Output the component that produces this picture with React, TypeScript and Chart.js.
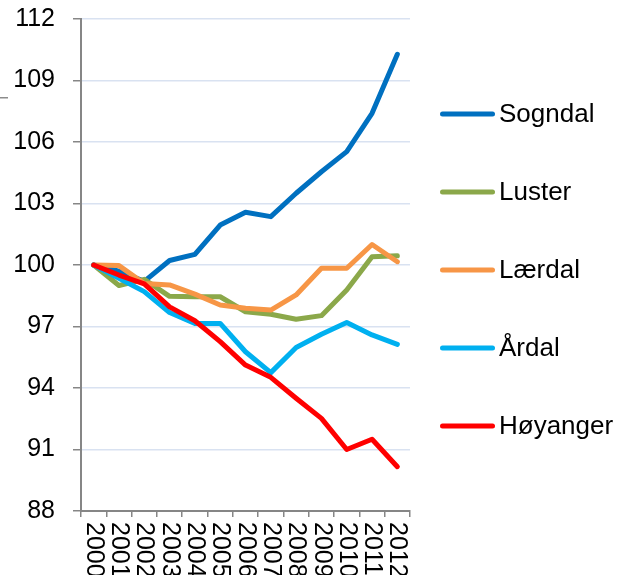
import React, { useEffect, useRef } from "react";
import { Chart, registerables } from "chart.js";

Chart.register(...registerables);

const years = ["2000", "2001", "2002", "2003", "2004", "2005", "2006", "2007", "2008", "2009", "2010", "2011", "2012"];
const seriesNames = ["Sogndal", "Luster", "Lærdal", "Årdal", "Høyanger"];
const sogndal = [100, 99.7, 99.2, 100.22, 100.52, 101.95, 102.57, 102.36, 103.5, 104.55, 105.53, 107.4, 110.28];
const luster = [100, 99.0, 99.3, 98.47, 98.45, 98.45, 97.72, 97.6, 97.35, 97.53, 98.78, 100.4, 100.45];
const laerdal = [100, 99.97, 99.1, 99.03, 98.58, 98.05, 97.89, 97.8, 98.54, 99.84, 99.84, 101.0, 100.16];
const ardal = [100, 99.35, 98.7, 97.68, 97.15, 97.15, 95.77, 94.75, 95.98, 96.62, 97.2, 96.59, 96.13];
const hoyanger = [100, 99.51, 99.08, 97.96, 97.28, 96.26, 95.12, 94.52, 93.5, 92.52, 91.0, 91.5, 90.16];
const seriesValues = [sogndal, luster, laerdal, ardal, hoyanger];
const seriesColors = ["#0070C0", "#8BA84A", "#F79646", "#00B0F0", "#FF0000"];
const yMin = 88;
const yMax = 112;
const yStep = 3;

const FONT = '"Liberation Sans", Arial, sans-serif';

export default function App() {
  const ref = useRef<HTMLCanvasElement>(null);

  useEffect(() => {
    document.body.style.margin = "0";
    const canvas = ref.current;
    if (!canvas) return;

    const xLabelsPlugin = {
      id: "xLabelsRotated",
      afterDraw(chart: any) {
        const ctx = chart.ctx;
        const xs = chart.scales.x;
        ctx.save();
        ctx.font = `25px ${FONT}`;
        ctx.fillStyle = "#000";
        ctx.textAlign = "left";
        ctx.textBaseline = "middle";
        const labels = chart.data.labels as string[];
        labels.forEach((lab, i) => {
          const x = xs.getPixelForValue(i);
          ctx.save();
          ctx.translate(x, xs.top + 11);
          ctx.rotate(Math.PI / 2);
          ctx.fillText(lab, 0, 0);
          ctx.restore();
        });
        ctx.restore();
      },
    };

    const legendPlugin = {
      id: "customLegend",
      afterDraw(chart: any) {
        const ctx = chart.ctx;
        ctx.save();
        const left = chart.chartArea.right + 30;
        chart.data.datasets.forEach((ds: any, i: number) => {
          const y = 114 + i * 78;
          ctx.strokeStyle = ds.borderColor;
          ctx.lineWidth = 5;
          ctx.lineCap = "round";
          ctx.beginPath();
          ctx.moveTo(left + 2.5, y);
          ctx.lineTo(left + 52.5, y);
          ctx.stroke();
          ctx.fillStyle = "#000";
          ctx.font = `26px ${FONT}`;
          ctx.textAlign = "left";
          ctx.textBaseline = "middle";
          ctx.fillText(ds.label, left + 59, y + 1);
        });
        // small stray dash at the left edge
        ctx.strokeStyle = "#8c8c8c";
        ctx.lineWidth = 1.5;
        ctx.lineCap = "butt";
        ctx.beginPath();
        ctx.moveTo(0, 97.75);
        ctx.lineTo(8, 97.75);
        ctx.stroke();
        ctx.restore();
      },
    };

    const chart = new Chart(canvas, {
      type: "line",
      data: {
        labels: years,
        datasets: seriesNames.map((name, i) => ({
          label: name,
          data: seriesValues[i],
          borderColor: seriesColors[i],
          backgroundColor: seriesColors[i],
          borderWidth: 5,
          pointRadius: 0,
          tension: 0,
          fill: false,
          borderJoinStyle: "round" as const,
          borderCapStyle: "round" as const,
          order: seriesNames.length - 1 - i,
        })),
      },
      options: {
        animation: false,
        responsive: false,
        devicePixelRatio: 1,
        layout: { autoPadding: false, padding: { left: 0, right: 218, top: 19, bottom: 0 } },
        plugins: {
          legend: { display: false },
          tooltip: { enabled: false },
        },
        scales: {
          x: {
            type: "category",
            offset: true,
            afterFit: (s: any) => {
              s.height = 64;
              s.paddingLeft = 0;
              s.paddingRight = 0;
            },
            grid: {
              display: true,
              offset: true,
              drawOnChartArea: false,
              drawTicks: true,
              tickLength: 6,
              tickColor: "#868686",
              lineWidth: 1.5,
            },
            border: { display: true, color: "#868686", width: 2 },
            ticks: { display: false },
          },
          y: {
            min: yMin,
            max: yMax,
            afterFit: (s: any) => {
              s.width = 81;
              s.paddingTop = 0;
              s.paddingBottom = 0;
            },
            ticks: {
              stepSize: yStep,
              padding: 18,
              color: "#000",
              font: { family: FONT, size: 25 },
            },
            grid: {
              color: "#D9E2F1",
              lineWidth: 1.5,
              tickLength: 8,
              tickColor: "#868686",
            },
            border: { display: true, color: "#868686", width: 2 },
          },
        },
      },
      plugins: [xLabelsPlugin, legendPlugin],
    });

    return () => chart.destroy();
  }, []);

  return (
    <div style={{ position: "absolute", left: 0, top: 0, width: 628, height: 575 }}>
      <canvas ref={ref} width={628} height={575} style={{ display: "block" }} />
    </div>
  );
}
